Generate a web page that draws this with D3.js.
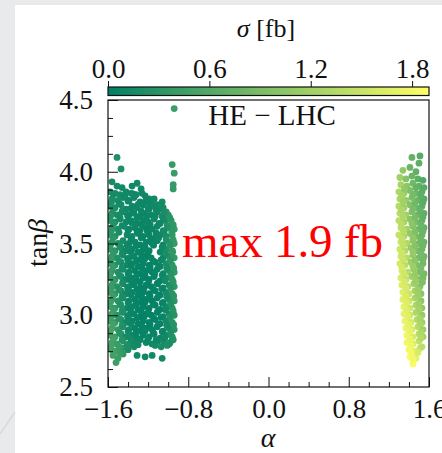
<!DOCTYPE html>
<html lang="en">
<head>
<meta charset="utf-8">
<script src="https://d3js.org/d3.v7.min.js"></script>
<style>
  body { margin: 0; background: #e9eaec; }
  svg { display: block; font-family: 'Liberation Serif', 'Times New Roman', serif; }
  .tick text { font-size: 27px; fill: #111; font-family: 'Liberation Serif', 'Times New Roman', serif; }
  .tick line { stroke: #111; stroke-width: 1px; }
</style>
</head>
<body>
<svg width="442" height="453"></svg>
<script>
// tick labels
const xTicks = [-1.6, -0.8, 0.0, 0.8, 1.6];
const xMinor = [-1.4, -1.2, -1.0, -0.6, -0.4, -0.2, 0.2, 0.4, 0.6, 1.0, 1.2, 1.4];
const yTicks = [2.5, 3.0, 3.5, 4.0, 4.5];
const yMinor = [2.625, 2.75, 2.875, 3.125, 3.25, 3.375, 3.625, 3.75, 3.875, 4.125, 4.25, 4.375];
const cTicks = [0.0, 0.6, 1.2, 1.8];
const cMax = 1.9;

// [alpha, tanBeta, sigma]  -- negative alpha branch
const leftPts = [
  [-1.51,4.10,.24],[-1.47,4.02,.22],[-0.94,4.44,.45],[-0.96,4.05,.40],[-0.94,3.99,.42],[-0.95,3.91,.40],[-0.95,3.88,.38],
  [-1.56,3.93,.18],[-1.51,3.90,.15],[-1.46,3.89,.14],[-1.36,3.90,.12],[-1.31,3.92,.13],[-1.27,3.88,.14],
  [-1.58,3.86,.22],[-1.53,3.85,.17],[-1.48,3.84,.15],[-1.42,3.86,.13],[-1.37,3.85,.12],[-1.32,3.84,.12],[-1.26,3.85,.12],[-1.19,3.81,.13],[-1.06,3.79,.16],
  [-1.56,3.81,.22],[-1.50,3.80,.18],[-1.45,3.82,.15],[-1.39,3.80,.12],[-1.34,3.82,.12],[-1.28,3.79,.11],[-1.22,3.80,.12],[-1.17,3.78,.13],[-1.11,3.77,.14],[-1.05,3.75,.18],
  [-1.58,3.76,.28],[-1.53,3.75,.20],[-1.47,3.77,.16],[-1.42,3.74,.13],[-1.36,3.76,.12],[-1.31,3.75,.10],[-1.25,3.77,.10],[-1.19,3.74,.12],[-1.14,3.76,.13],[-1.08,3.74,.16],[-1.02,3.72,.25],
  [-1.56,3.71,.25],[-1.51,3.70,.20],[-1.45,3.72,.15],[-1.39,3.70,.12],[-1.34,3.71,.10],[-1.28,3.69,.09],[-1.23,3.71,.10],[-1.17,3.70,.10],[-1.11,3.72,.12],[-1.06,3.69,.15],[-1.00,3.70,.28],[-0.97,3.66,.35],
  [-1.58,3.66,.30],[-1.53,3.65,.22],[-1.48,3.67,.16],[-1.42,3.65,.12],[-1.37,3.66,.10],[-1.31,3.64,.09],[-1.25,3.66,.08],[-1.20,3.65,.09],[-1.14,3.67,.10],[-1.08,3.64,.12],[-1.03,3.66,.20],[-0.96,3.63,.32],
  [-1.56,3.61,.30],[-1.50,3.60,.20],[-1.44,3.62,.14],[-1.39,3.60,.11],[-1.33,3.61,.09],[-1.28,3.59,.08],[-1.22,3.61,.08],[-1.16,3.60,.09],[-1.11,3.62,.10],[-1.05,3.59,.14],[-0.99,3.61,.28],[-0.94,3.60,.38],
  [-1.58,3.56,.35],[-1.53,3.55,.25],[-1.41,3.56,.12],[-1.36,3.55,.10],[-1.30,3.57,.08],[-1.25,3.55,.07],[-1.19,3.56,.08],[-1.13,3.54,.09],[-1.08,3.56,.12],[-1.02,3.55,.20],[-0.96,3.56,.35],
  [-1.56,3.51,.33],[-1.50,3.50,.24],[-1.45,3.52,.16],[-1.39,3.50,.11],[-1.33,3.51,.09],[-1.28,3.49,.07],[-1.22,3.51,.06],[-1.16,3.50,.07],[-1.11,3.52,.08],[-1.05,3.49,.12],[-0.99,3.51,.25],[-0.94,3.50,.40],
  [-1.58,3.46,.38],[-1.53,3.45,.26],[-1.47,3.47,.16],[-1.42,3.45,.12],[-1.36,3.46,.09],[-1.30,3.44,.07],[-1.25,3.46,.06],[-1.19,3.45,.06],[-1.08,3.44,.10],[-1.02,3.46,.22],[-0.96,3.45,.36],
  [-1.56,3.41,.36],[-1.51,3.40,.25],[-1.45,3.42,.15],[-1.39,3.40,.10],[-1.34,3.41,.08],[-1.28,3.39,.06],[-1.22,3.41,.05],[-1.17,3.40,.06],[-1.05,3.40,.12],[-0.99,3.41,.26],[-0.94,3.40,.38],
  [-1.58,3.36,.40],[-1.53,3.35,.28],[-1.47,3.37,.17],[-1.41,3.35,.10],[-1.36,3.36,.07],[-1.30,3.34,.05],[-1.25,3.36,.05],[-1.19,3.35,.05],[-1.13,3.37,.06],[-1.08,3.34,.09],[-1.02,3.36,.20],[-0.96,3.35,.34],
  [-1.56,3.31,.38],[-1.50,3.30,.26],[-1.45,3.32,.15],[-1.39,3.30,.09],[-1.33,3.31,.06],[-1.28,3.29,.05],[-1.22,3.31,.04],[-1.16,3.30,.05],[-1.11,3.32,.06],[-1.05,3.29,.10],[-0.99,3.31,.22],[-0.94,3.30,.36],
  [-1.58,3.26,.42],[-1.53,3.25,.30],[-1.47,3.27,.18],[-1.42,3.25,.10],[-1.36,3.26,.06],[-1.31,3.24,.05],[-1.25,3.26,.04],[-1.19,3.25,.04],[-1.14,3.27,.05],[-1.08,3.24,.08],[-1.02,3.26,.18],[-0.96,3.25,.32],
  [-1.56,3.21,.40],[-1.51,3.20,.28],[-1.45,3.22,.16],[-1.39,3.20,.09],[-1.34,3.21,.06],[-1.28,3.19,.04],[-1.22,3.21,.03],[-1.17,3.20,.04],[-1.11,3.22,.05],[-1.05,3.19,.09],[-0.99,3.21,.20],[-0.94,3.20,.34],
  [-1.58,3.16,.44],[-1.53,3.15,.32],[-1.47,3.17,.20],[-1.42,3.15,.12],[-1.36,3.16,.07],[-1.30,3.14,.05],[-1.25,3.16,.04],[-1.19,3.15,.03],[-1.13,3.17,.04],[-1.08,3.14,.07],[-1.02,3.16,.16],[-0.96,3.15,.30],
  [-1.56,3.11,.42],[-1.50,3.10,.30],[-1.45,3.12,.18],[-1.39,3.10,.10],[-1.33,3.11,.06],[-1.28,3.09,.04],[-1.22,3.11,.03],[-1.16,3.10,.03],[-1.11,3.12,.04],[-1.05,3.09,.08],[-0.99,3.11,.18],[-0.94,3.10,.32],
  [-1.58,3.06,.46],[-1.53,3.05,.34],[-1.47,3.07,.22],[-1.41,3.05,.12],[-1.36,3.06,.07],[-1.30,3.04,.04],[-1.25,3.06,.03],[-1.19,3.05,.03],[-1.13,3.07,.04],[-1.08,3.04,.06],[-1.02,3.06,.15],[-0.96,3.05,.30],
  [-1.56,3.01,.44],[-1.51,3.00,.32],[-1.45,3.02,.20],[-1.39,3.00,.11],[-1.34,3.01,.06],[-1.28,2.99,.04],[-1.22,3.01,.03],[-1.17,3.00,.03],[-1.11,3.02,.04],[-1.05,2.99,.07],[-0.99,3.01,.17],[-0.94,3.00,.30],
  [-1.58,2.96,.48],[-1.53,2.95,.36],[-1.47,2.97,.24],[-1.42,2.95,.13],[-1.36,2.96,.07],[-1.30,2.94,.05],[-1.25,2.96,.04],[-1.19,2.95,.04],[-1.13,2.97,.05],[-1.08,2.94,.07],[-1.02,2.96,.15],[-0.96,2.95,.28],
  [-1.56,2.91,.50],[-1.50,2.90,.38],[-1.45,2.92,.24],[-1.39,2.90,.14],[-1.33,2.91,.08],[-1.28,2.89,.06],[-1.22,2.91,.05],[-1.16,2.90,.05],[-1.11,2.92,.06],[-1.05,2.89,.08],[-0.99,2.91,.16],[-0.94,2.90,.28],
  [-1.58,2.86,.52],[-1.53,2.85,.40],[-1.47,2.87,.26],[-1.42,2.85,.15],[-1.36,2.86,.10],[-1.31,2.84,.08],[-1.25,2.86,.07],[-1.19,2.85,.07],[-1.14,2.87,.08],[-1.08,2.84,.10],[-1.02,2.86,.16],[-0.96,2.85,.26],
  [-1.56,2.81,.50],[-1.51,2.80,.42],[-1.45,2.82,.28],[-1.39,2.80,.17],[-1.33,2.81,.12],[-1.22,2.81,.10],[-1.16,2.80,.10],[-1.10,2.82,.12],[-1.04,2.80,.15],[-0.98,2.81,.20],[-0.95,2.83,.25],
  [-1.57,2.76,.50],[-1.52,2.75,.45],[-1.46,2.77,.32],[-1.40,2.76,.20],[-1.34,2.78,.16],[-1.07,2.78,.18],[-1.01,2.79,.22],
  [-1.55,2.72,.48],[-1.50,2.70,.45],[-1.45,2.73,.35],[-1.31,2.72,.14],[-1.23,2.71,.12],[-1.16,2.72,.13],[-1.06,2.70,.14],
  [-1.52,2.67,.46]
];

// extra points of the negative branch lying between the rows above
const leftFill = [
  [-1.545,3.842,.17],[-1.43,3.828,.13],[-1.35,3.846,.12],[-1.23,3.832,.12],[-1.14,3.81,.13],
  [-1.565,3.79,.20],[-1.49,3.778,.15],[-1.40,3.795,.12],[-1.30,3.772,.11],[-1.20,3.789,.11],[-1.09,3.762,.15],
  [-1.55,3.738,.22],[-1.46,3.725,.15],[-1.37,3.742,.11],[-1.27,3.728,.10],[-1.20,3.745,.10],[-1.12,3.733,.12],[-1.04,3.71,.20],
  [-1.575,3.69,.27],[-1.48,3.68,.15],[-1.405,3.693,.11],[-1.31,3.678,.09],[-1.215,3.686,.09],[-1.13,3.69,.10],[-1.05,3.672,.15],[-0.985,3.68,.30],
  [-1.545,3.638,.26],[-1.46,3.625,.14],[-1.36,3.642,.10],[-1.26,3.628,.08],[-1.18,3.632,.08],[-1.09,3.64,.11],[-1.01,3.622,.24],[-0.95,3.63,.36],
  [-1.565,3.59,.32],[-1.49,3.578,.20],[-1.40,3.592,.11],[-1.31,3.58,.08],[-1.21,3.588,.07],[-1.12,3.574,.09],[-1.04,3.585,.17],[-0.965,3.58,.34],
  [-1.55,3.538,.32],[-1.37,3.528,.09],[-1.27,3.54,.07],[-1.175,3.525,.07],[-1.095,3.538,.10],[-1.02,3.53,.22],[-0.95,3.525,.38],
  [-1.575,3.49,.36],[-1.48,3.478,.20],[-1.41,3.49,.11],[-1.32,3.482,.08],[-1.23,3.475,.06],[-1.145,3.488,.07],[-1.06,3.476,.12],[-0.98,3.49,.30],
  [-1.545,3.438,.36],[-1.46,3.43,.16],[-1.37,3.44,.09],[-1.265,3.425,.06],[-1.20,3.438,.05],[-1.025,3.43,.20],[-0.955,3.44,.36],
  [-1.565,3.39,.38],[-1.49,3.378,.22],[-1.405,3.39,.10],[-1.315,3.38,.06],[-1.235,3.39,.05],[-1.15,3.378,.05],[-1.07,3.385,.10],[-0.98,3.38,.28],
  [-1.55,3.338,.40],[-1.46,3.33,.18],[-1.37,3.342,.07],[-1.26,3.328,.05],[-1.18,3.335,.04],[-1.095,3.342,.07],[-1.015,3.33,.18],[-0.945,3.328,.36],
  [-1.575,3.29,.42],[-1.485,3.278,.22],[-1.40,3.29,.09],[-1.31,3.282,.05],[-1.23,3.275,.04],[-1.135,3.288,.05],[-1.06,3.28,.10],[-0.97,3.285,.28],
  [-1.545,3.238,.40],[-1.455,3.228,.18],[-1.37,3.24,.07],[-1.28,3.232,.04],[-1.195,3.238,.03],[-1.10,3.228,.05],[-1.03,3.24,.15],[-0.95,3.232,.33],
  [-1.565,3.19,.42],[-1.49,3.178,.25],[-1.405,3.19,.10],[-1.31,3.18,.05],[-1.24,3.188,.03],[-1.145,3.178,.04],[-1.065,3.185,.08],[-0.975,3.19,.26],
  [-1.55,3.138,.43],[-1.46,3.13,.20],[-1.37,3.142,.08],[-1.265,3.128,.04],[-1.18,3.135,.03],[-1.095,3.14,.05],[-1.015,3.13,.15],[-0.945,3.135,.32],
  [-1.575,3.09,.46],[-1.48,3.078,.25],[-1.40,3.088,.10],[-1.32,3.08,.05],[-1.23,3.09,.03],[-1.15,3.078,.03],[-1.06,3.085,.07],[-0.975,3.08,.24],
  [-1.545,3.038,.45],[-1.46,3.03,.22],[-1.375,3.04,.08],[-1.27,3.028,.04],[-1.195,3.04,.03],[-1.10,3.03,.04],[-1.025,3.036,.12],[-0.95,3.03,.30],
  [-1.565,2.99,.47],[-1.49,2.978,.28],[-1.405,2.99,.11],[-1.31,2.98,.05],[-1.24,2.988,.03],[-1.145,2.978,.04],[-1.07,2.985,.07],[-0.98,2.99,.24],
  [-1.55,2.938,.50],[-1.46,2.93,.25],[-1.37,2.94,.10],[-1.265,2.928,.05],[-1.18,2.935,.04],[-1.095,2.94,.06],[-1.015,2.93,.14],[-0.945,2.935,.30],
  [-1.575,2.89,.52],[-1.485,2.878,.30],[-1.40,2.888,.13],[-1.32,2.88,.07],[-1.23,2.89,.06],[-1.15,2.878,.06],[-1.06,2.885,.08],[-0.975,2.88,.22],
  [-1.545,2.838,.50],[-1.46,2.83,.28],[-1.375,2.84,.14],[-1.28,2.83,.09],[-1.20,2.838,.08],[-1.12,2.83,.09],[-1.035,2.84,.12],[-0.955,2.832,.24],
  [-1.565,2.79,.50],[-1.49,2.78,.42],[-1.41,2.79,.22],[-1.30,2.795,.14],[-1.13,2.79,.14],[-0.99,2.80,.20],
  [-1.54,2.745,.48],[-1.48,2.735,.42]
];

// positive alpha branch
const rightPts = [
  [1.43,4.10,.75],[1.51,4.11,.65],[1.50,4.06,.70],
  [1.34,4.01,1.10],[1.41,4.03,.80],[1.47,4.00,.72],
  [1.31,3.96,1.20],[1.37,3.95,1.00],[1.43,3.97,.80],[1.49,3.95,.70],[1.54,3.94,.62],
  [1.32,3.91,1.25],[1.38,3.90,1.05],[1.44,3.92,.85],[1.50,3.90,.72],[1.55,3.89,.65],
  [1.30,3.86,1.30],[1.35,3.85,1.15],[1.41,3.87,.95],[1.47,3.85,.78],[1.53,3.86,.68],
  [1.31,3.81,1.30],[1.37,3.80,1.10],[1.43,3.82,.92],[1.49,3.80,.78],[1.55,3.81,.66],
  [1.30,3.76,1.35],[1.35,3.75,1.20],[1.41,3.77,1.00],[1.47,3.75,.82],[1.53,3.76,.70],
  [1.31,3.71,1.38],[1.37,3.70,1.20],[1.43,3.72,.95],[1.49,3.70,.80],[1.55,3.71,.70],
  [1.30,3.66,1.40],[1.35,3.65,1.25],[1.41,3.67,1.05],[1.47,3.65,.88],[1.53,3.66,.75],
  [1.32,3.61,1.42],[1.38,3.60,1.22],[1.44,3.62,1.00],[1.50,3.60,.82],[1.55,3.61,.74],
  [1.30,3.56,1.48],[1.35,3.55,1.30],[1.41,3.57,1.10],[1.47,3.55,.90],[1.53,3.56,.78],
  [1.32,3.51,1.50],[1.38,3.50,1.30],[1.44,3.52,1.05],[1.50,3.50,.86],[1.55,3.51,.80],
  [1.31,3.46,1.52],[1.36,3.45,1.35],[1.42,3.47,1.12],[1.48,3.45,.92],[1.53,3.46,.82],
  [1.32,3.41,1.55],[1.38,3.40,1.35],[1.44,3.42,1.10],[1.50,3.40,.90],[1.55,3.41,.84],
  [1.31,3.36,1.58],[1.36,3.35,1.40],[1.42,3.37,1.18],[1.48,3.35,.95],[1.54,3.36,.86],
  [1.33,3.31,1.60],[1.39,3.30,1.38],[1.45,3.32,1.12],[1.51,3.30,.92],[1.55,3.29,.88],
  [1.32,3.26,1.62],[1.37,3.25,1.45],[1.43,3.27,1.22],[1.49,3.25,1.00],[1.54,3.26,.90],
  [1.33,3.21,1.65],[1.39,3.20,1.45],[1.45,3.22,1.20],[1.51,3.20,.98],
  [1.34,3.16,1.66],[1.40,3.15,1.50],[1.46,3.17,1.25],[1.52,3.15,1.02],
  [1.34,3.11,1.68],[1.40,3.10,1.50],[1.46,3.12,1.28],[1.52,3.10,1.05],
  [1.35,3.06,1.70],[1.41,3.05,1.55],[1.47,3.07,1.30],[1.53,3.05,1.08],
  [1.35,3.01,1.72],[1.41,3.00,1.55],[1.47,3.02,1.32],[1.53,3.00,1.10],
  [1.36,2.96,1.74],[1.42,2.95,1.58],[1.48,2.97,1.35],[1.53,2.95,1.15],
  [1.37,2.91,1.76],[1.43,2.90,1.60],[1.49,2.92,1.38],[1.54,2.90,1.18],
  [1.38,2.86,1.78],[1.44,2.85,1.62],[1.50,2.87,1.40],[1.54,2.85,1.22],
  [1.38,2.81,1.80],[1.44,2.80,1.65],[1.50,2.82,1.45],
  [1.40,2.76,1.82],[1.46,2.75,1.68],[1.51,2.77,1.50],
  [1.41,2.71,1.85],[1.47,2.70,1.70],
  [1.44,2.66,1.86]
];

// extra points of the positive branch between the rows above
const rightFill = [
  [1.355,3.88,1.10],[1.47,3.89,.76],
  [1.33,3.835,1.25],[1.44,3.84,.88],[1.52,3.83,.70],
  [1.345,3.79,1.20],[1.46,3.78,.85],[1.54,3.785,.68],
  [1.325,3.735,1.30],[1.44,3.74,.92],[1.51,3.73,.76],
  [1.34,3.69,1.32],[1.46,3.68,.90],[1.54,3.685,.72],
  [1.325,3.635,1.40],[1.43,3.64,1.05],[1.52,3.63,.80],
  [1.345,3.59,1.38],[1.46,3.58,.96],[1.54,3.585,.78],
  [1.33,3.535,1.45],[1.44,3.54,1.08],[1.52,3.53,.84],
  [1.345,3.49,1.45],[1.46,3.48,1.00],[1.54,3.485,.82],
  [1.33,3.435,1.52],[1.44,3.44,1.12],[1.52,3.43,.88],
  [1.345,3.39,1.50],[1.46,3.38,1.05],[1.54,3.385,.86],
  [1.33,3.335,1.58],[1.44,3.34,1.18],[1.52,3.33,.92],
  [1.35,3.29,1.55],[1.46,3.28,1.12],[1.54,3.285,.90],
  [1.355,3.235,1.60],[1.47,3.24,1.15],[1.535,3.23,.95],
  [1.37,3.19,1.60],[1.49,3.18,1.15],
  [1.37,3.135,1.62],[1.49,3.14,1.18],
  [1.38,3.09,1.65],[1.50,3.08,1.20],
  [1.38,3.035,1.66],[1.50,3.04,1.22],
  [1.39,2.99,1.68],[1.51,2.98,1.25],
  [1.40,2.935,1.70],[1.515,2.94,1.28],
  [1.41,2.89,1.72],[1.52,2.88,1.30],
  [1.41,2.835,1.75],[1.52,2.84,1.35],
  [1.42,2.79,1.78],[1.53,2.78,1.40],
  [1.43,2.735,1.80],[1.49,2.74,1.60],
  [1.44,2.69,1.82]
];

const svg = d3.select("svg");
const W = 442, H = 453;
const m = { left: 108, right: 429, top: 100, bottom: 387 };

// background: grey page with white figure panel
svg.append("rect").attr("width", W).attr("height", H).attr("fill", "#e9eaec");
svg.append("rect").attr("x", 15).attr("y", 5).attr("width", W - 15).attr("height", H - 5).attr("fill", "#fff");
svg.append("line").attr("x1", 0).attr("y1", 434).attr("x2", 15).attr("y2", 412)
  .attr("stroke", "#d8d9dc").attr("stroke-width", 1.5);

const x = d3.scaleLinear().domain([-1.6, 1.6]).range([m.left, m.right]);
const y = d3.scaleLinear().domain([2.5, 4.5]).range([m.bottom, m.top]);
const summer = d3.interpolateRgb("rgb(0,128,102)", "rgb(255,255,102)");
const color = d3.scaleSequential(summer).domain([0, cMax]);

// clip for scatter
svg.append("clipPath").attr("id", "clip")
  .append("rect").attr("x", m.left).attr("y", m.top)
  .attr("width", m.right - m.left).attr("height", m.bottom - m.top);

const pts = leftPts.concat(leftFill, rightPts, rightFill);
svg.append("g").attr("clip-path", "url(#clip)")
  .selectAll("circle")
  .data(pts)
  .join("circle")
    .attr("cx", d => x(d[0]))
    .attr("cy", d => y(d[1]))
    .attr("r", 3.4)
    .attr("fill", d => color(d[2]));

// axes, ticks pointing inwards
const fmt = d3.format(".1f");
svg.append("g").attr("transform", `translate(0,${m.bottom})`)
  .call(d3.axisBottom(x).tickValues(xTicks).tickFormat(fmt).tickSize(-10).tickPadding(12));
svg.append("g").attr("transform", `translate(0,${m.bottom})`)
  .call(d3.axisBottom(x).tickValues(xMinor).tickFormat("").tickSize(-5));
svg.append("g").attr("transform", `translate(${m.left},0)`)
  .call(d3.axisLeft(y).tickValues(yTicks).tickFormat(fmt).tickSize(-10).tickPadding(15));
svg.append("g").attr("transform", `translate(${m.left},0)`)
  .call(d3.axisLeft(y).tickValues(yMinor).tickFormat("").tickSize(-5));
svg.selectAll(".domain").remove();

svg.append("rect").attr("x", m.left).attr("y", m.top)
  .attr("width", m.right - m.left).attr("height", m.bottom - m.top)
  .attr("fill", "none").attr("stroke", "#111").attr("stroke-width", 1.2);

// colorbar
const cb = { y: 87, h: 8.5 };
const c = d3.scaleLinear().domain([0, cMax]).range([m.left, m.right]);
const grad = svg.append("defs").append("linearGradient").attr("id", "cbar");
[0, 0.25, 0.5, 0.75, 1].forEach(t =>
  grad.append("stop").attr("offset", t).attr("stop-color", summer(t)));
svg.append("rect").attr("x", m.left).attr("y", cb.y)
  .attr("width", m.right - m.left).attr("height", cb.h)
  .attr("fill", "url(#cbar)").attr("stroke", "#111").attr("stroke-width", 1.2);
svg.append("g").attr("transform", `translate(0,${cb.y})`)
  .call(d3.axisTop(c).tickValues(cTicks).tickFormat(fmt).tickSize(6).tickPadding(3))
  .select(".domain").remove();

// labels
svg.append("text").attr("x", 266).attr("y", 37).attr("text-anchor", "middle")
  .attr("font-size", 26).attr("fill", "#111")
  .call(t => {
    t.append("tspan").attr("font-style", "italic").text("σ");
    t.append("tspan").text(" [fb]");
  });
svg.append("text").attr("x", 268).attr("y", 447).attr("text-anchor", "middle")
  .attr("font-size", 28).attr("font-style", "italic").attr("fill", "#111").text("α");
svg.append("text").attr("transform", "translate(47,243) rotate(-90)")
  .attr("text-anchor", "middle").attr("font-size", 28).attr("fill", "#111")
  .call(t => {
    t.append("tspan").text("tan");
    t.append("tspan").attr("font-style", "italic").text("β");
  });
svg.append("text").attr("x", 272).attr("y", 125).attr("text-anchor", "middle")
  .attr("font-size", 29).attr("fill", "#111").text("HE − LHC");
svg.append("text").attr("x", 182).attr("y", 257)
  .attr("font-size", 47).attr("fill", "#ff0000")
  .attr("textLength", 201).attr("lengthAdjust", "spacing").text("max 1.9 fb");
</script>
</body>
</html>
